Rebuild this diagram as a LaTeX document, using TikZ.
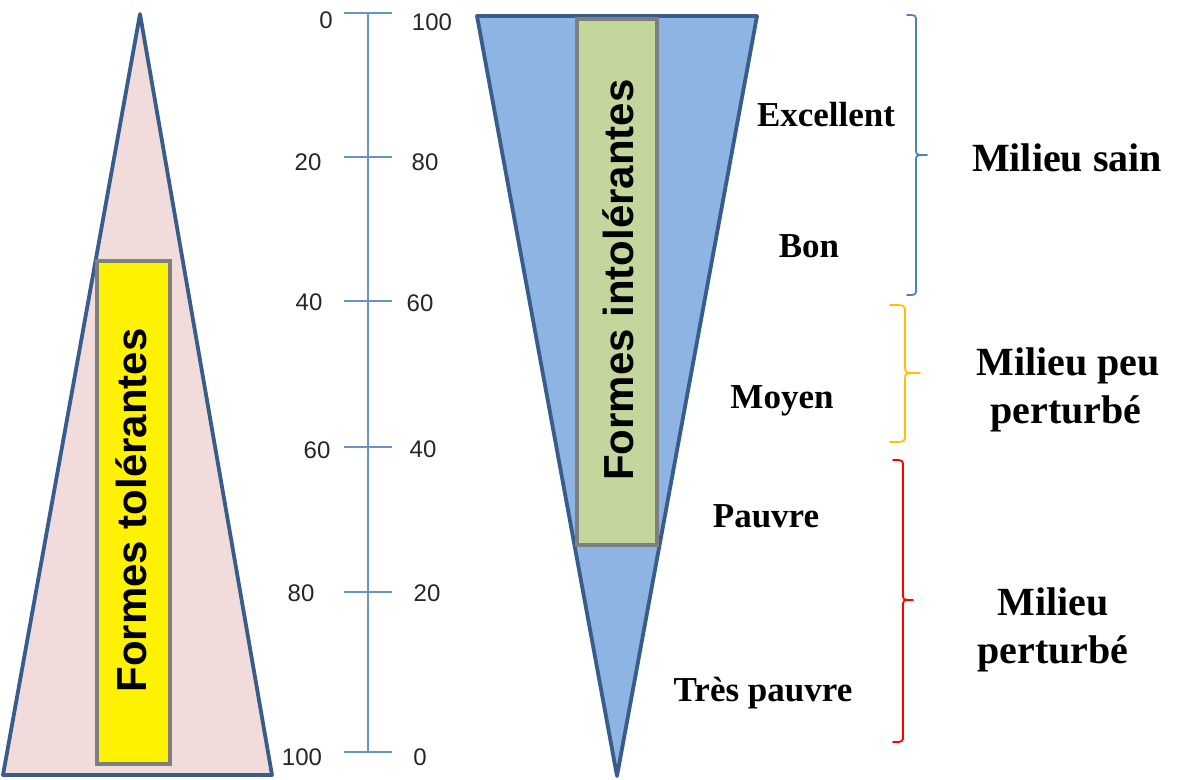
\documentclass[tikz,border=0pt]{standalone}
\usepackage{fontspec}
\setmainfont{Liberation Serif}
\setsansfont{Liberation Sans}
\definecolor{outl}{HTML}{385D8A}
\definecolor{pinkf}{HTML}{F2DCDB}
\definecolor{bluef}{HTML}{8EB4E3}
\definecolor{greenf}{HTML}{C3D69B}
\definecolor{greyb}{HTML}{7F7F7F}
\definecolor{scalec}{HTML}{4F81BD}
\definecolor{yelb}{HTML}{FFC000}
\definecolor{numc}{HTML}{262626}
\tikzset{
  tri/.style={draw=outl, line width=3.8pt, line join=round},
  bar/.style={draw=greyb, line width=3.5pt, inner sep=0pt, anchor=north west},
  vlabel/.style={rotate=90, inner sep=0pt, font=\sffamily\bfseries\fontsize{42}{48}\selectfont},
  num/.style={inner sep=0pt, anchor=base, text=numc, font=\sffamily\fontsize{24}{28}\selectfont},
  qual/.style={inner sep=0pt, anchor=base, font=\rmfamily\bfseries\fontsize{35}{40}\selectfont},
  milieu/.style={inner sep=0pt, anchor=base, font=\rmfamily\bfseries\fontsize{40}{46}\selectfont},
  tick/.style={draw=scalec!85, line width=2.2pt},
  brace/.style={line width=1.8pt, line cap=round, line join=round}
}
\begin{document}
\begin{tikzpicture}[x=1pt,y=-1pt]
\useasboundingbox (0,0) rectangle (1177,779);
% left triangle
\filldraw[tri, fill=pinkf] (140,14) -- (272,775) -- (3,775) -- cycle;
\node[bar, fill=yellow, minimum width=73pt, minimum height=503pt] (tolbox) at (95,259) {};
\node[vlabel] (tol) at (131.5,510.5) {Formes tolérantes};
% right triangle
\filldraw[tri, fill=bluef] (477,16) -- (757,16) -- (617,776) -- cycle;
\node[bar, fill=greenf, minimum width=80pt, minimum height=526pt] (intbox) at (575,17) {};
\node[vlabel] (int) at (618.5,280) {Formes intolérantes};
% scale
\coordinate (stop) at (368,13);
\coordinate (sbot) at (368,752);
\draw[tick] (stop) -- (sbot);
\foreach \y in {13,157,301,447,592,752}{
  \draw[tick] (344,\y) -- (392,\y);
}
\node[num] (l0) at (326,28.5) {0};
\node[num] (l20) at (308,170.5) {20};
\node[num] (l40) at (309,310.5) {40};
\node[num] (l60) at (317,458.5) {60};
\node[num] (l80) at (301,601.5) {80};
\node[num] (l100) at (302,765.5) {100};
\node[num] (r100) at (432,30.5) {100};
\node[num] (r80) at (425,170.5) {80};
\node[num] (r60) at (420,311.5) {60};
\node[num] (r40) at (423,457.5) {40};
\node[num] (r20) at (427,601.5) {20};
\node[num] (r0) at (420,765.5) {0};
% quality labels
\node[qual] (exc) at (826,126) {Excellent};
\node[qual] (bon) at (809,257.5) {Bon};
\node[qual] (moy) at (782,408) {Moyen};
\node[qual] (pau) at (766,527) {Pauvre};
\node[qual] (tpau) at (763,701) {Très pauvre};
% braces
\draw[brace, scalec] (907,15) .. controls (916,15) .. (916,22) -- (916,149) .. controls (916,155) .. (927,155) .. controls (916,155) .. (916,161) -- (916,288) .. controls (916,295) .. (907,295);
\draw[brace, yelb] (890,305) .. controls (905,305) .. (905,312) -- (905,367) .. controls (905,373) .. (920,373) .. controls (905,373) .. (905,379) -- (905,435) .. controls (905,442) .. (890,442);
\draw[brace, red] (893,460) .. controls (903,460) .. (903,467) -- (903,594) .. controls (903,600) .. (913,600) .. controls (903,600) .. (903,606) -- (903,735) .. controls (903,742) .. (893,742);
% milieu labels
\node[milieu] (sain) at (1067,171.5) {Milieu sain};
\node[milieu] (peu1) at (1068,375) {Milieu peu};
\node[milieu] (peu2) at (1066,423) {perturbé};
\node[milieu] (pert1) at (1053,615) {Milieu};
\node[milieu] (pert2) at (1053,663) {perturbé};
\end{tikzpicture}
\end{document}
